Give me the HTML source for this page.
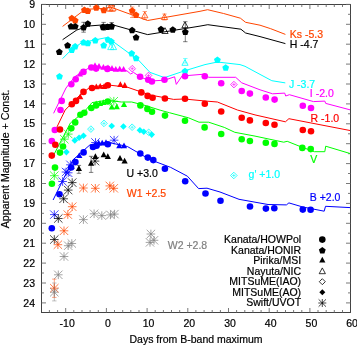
<!DOCTYPE html>
<html><head><meta charset="utf-8"><style>
html,body{margin:0;padding:0;background:#fff;width:357px;height:345px;overflow:hidden}
svg{display:block;will-change:transform}
text{font-family:"Liberation Sans",sans-serif;stroke-width:0.2px}
</style></head><body>
<svg width="357" height="345" viewBox="0 0 357 345">
<rect width="357" height="345" fill="#fff"/>
<rect x="41.5" y="4.5" width="309.0" height="308.0" fill="none" stroke="#3a3a3a" stroke-width="0.95"/>
<path d="M41.5 4.4h4.5M350.5 4.4h-4.5M41.5 14.3h2.5M350.5 14.3h-2.5M41.5 24.3h4.5M350.5 24.3h-4.5M41.5 34.2h2.5M350.5 34.2h-2.5M41.5 44.2h4.5M350.5 44.2h-4.5M41.5 54.1h2.5M350.5 54.1h-2.5M41.5 64.1h4.5M350.5 64.1h-4.5M41.5 74h2.5M350.5 74h-2.5M41.5 84h4.5M350.5 84h-4.5M41.5 94h2.5M350.5 94h-2.5M41.5 103.9h4.5M350.5 103.9h-4.5M41.5 113.8h2.5M350.5 113.8h-2.5M41.5 123.8h4.5M350.5 123.8h-4.5M41.5 133.8h2.5M350.5 133.8h-2.5M41.5 143.7h4.5M350.5 143.7h-4.5M41.5 153.7h2.5M350.5 153.7h-2.5M41.5 163.6h4.5M350.5 163.6h-4.5M41.5 173.5h2.5M350.5 173.5h-2.5M41.5 183.5h4.5M350.5 183.5h-4.5M41.5 193.4h2.5M350.5 193.4h-2.5M41.5 203.4h4.5M350.5 203.4h-4.5M41.5 213.3h2.5M350.5 213.3h-2.5M41.5 223.3h4.5M350.5 223.3h-4.5M41.5 233.2h2.5M350.5 233.2h-2.5M41.5 243.2h4.5M350.5 243.2h-4.5M41.5 253.1h2.5M350.5 253.1h-2.5M41.5 263.1h4.5M350.5 263.1h-4.5M41.5 273h2.5M350.5 273h-2.5M41.5 283h4.5M350.5 283h-4.5M41.5 292.9h2.5M350.5 292.9h-2.5M41.5 302.9h4.5M350.5 302.9h-4.5M49.4 312.5v-2.5M49.4 4.5v2.5M57.6 312.5v-2.5M57.6 4.5v2.5M65.7 312.5v-4.5M65.7 4.5v4.5M73.8 312.5v-2.5M73.8 4.5v2.5M82 312.5v-2.5M82 4.5v2.5M90.1 312.5v-2.5M90.1 4.5v2.5M98.3 312.5v-2.5M98.3 4.5v2.5M106.4 312.5v-4.5M106.4 4.5v4.5M114.5 312.5v-2.5M114.5 4.5v2.5M122.7 312.5v-2.5M122.7 4.5v2.5M130.8 312.5v-2.5M130.8 4.5v2.5M139 312.5v-2.5M139 4.5v2.5M147.1 312.5v-4.5M147.1 4.5v4.5M155.2 312.5v-2.5M155.2 4.5v2.5M163.4 312.5v-2.5M163.4 4.5v2.5M171.5 312.5v-2.5M171.5 4.5v2.5M179.7 312.5v-2.5M179.7 4.5v2.5M187.8 312.5v-4.5M187.8 4.5v4.5M195.9 312.5v-2.5M195.9 4.5v2.5M204.1 312.5v-2.5M204.1 4.5v2.5M212.2 312.5v-2.5M212.2 4.5v2.5M220.4 312.5v-2.5M220.4 4.5v2.5M228.5 312.5v-4.5M228.5 4.5v4.5M236.6 312.5v-2.5M236.6 4.5v2.5M244.8 312.5v-2.5M244.8 4.5v2.5M252.9 312.5v-2.5M252.9 4.5v2.5M261.1 312.5v-2.5M261.1 4.5v2.5M269.2 312.5v-4.5M269.2 4.5v4.5M277.3 312.5v-2.5M277.3 4.5v2.5M285.5 312.5v-2.5M285.5 4.5v2.5M293.6 312.5v-2.5M293.6 4.5v2.5M301.8 312.5v-2.5M301.8 4.5v2.5M309.9 312.5v-4.5M309.9 4.5v4.5M318 312.5v-2.5M318 4.5v2.5M326.2 312.5v-2.5M326.2 4.5v2.5M334.3 312.5v-2.5M334.3 4.5v2.5M342.5 312.5v-2.5M342.5 4.5v2.5" stroke="#6a6a6a" stroke-width="0.9" fill="none"/>
<text x="35" y="8" fill="#000000" stroke="#000000" font-size="10.5" text-anchor="end">9</text>
<text x="35" y="27.9" fill="#000000" stroke="#000000" font-size="10.5" text-anchor="end">10</text>
<text x="35" y="47.8" fill="#000000" stroke="#000000" font-size="10.5" text-anchor="end">11</text>
<text x="35" y="67.7" fill="#000000" stroke="#000000" font-size="10.5" text-anchor="end">12</text>
<text x="35" y="87.6" fill="#000000" stroke="#000000" font-size="10.5" text-anchor="end">13</text>
<text x="35" y="107.5" fill="#000000" stroke="#000000" font-size="10.5" text-anchor="end">14</text>
<text x="35" y="127.4" fill="#000000" stroke="#000000" font-size="10.5" text-anchor="end">15</text>
<text x="35" y="147.3" fill="#000000" stroke="#000000" font-size="10.5" text-anchor="end">16</text>
<text x="35" y="167.2" fill="#000000" stroke="#000000" font-size="10.5" text-anchor="end">17</text>
<text x="35" y="187.1" fill="#000000" stroke="#000000" font-size="10.5" text-anchor="end">18</text>
<text x="35" y="207" fill="#000000" stroke="#000000" font-size="10.5" text-anchor="end">19</text>
<text x="35" y="226.9" fill="#000000" stroke="#000000" font-size="10.5" text-anchor="end">20</text>
<text x="35" y="246.8" fill="#000000" stroke="#000000" font-size="10.5" text-anchor="end">21</text>
<text x="35" y="266.7" fill="#000000" stroke="#000000" font-size="10.5" text-anchor="end">22</text>
<text x="35" y="286.6" fill="#000000" stroke="#000000" font-size="10.5" text-anchor="end">23</text>
<text x="35" y="306.5" fill="#000000" stroke="#000000" font-size="10.5" text-anchor="end">24</text>
<text x="67.2" y="327.1" fill="#000000" stroke="#000000" font-size="10.5" text-anchor="middle">-10</text>
<text x="107.9" y="327.1" fill="#000000" stroke="#000000" font-size="10.5" text-anchor="middle">0</text>
<text x="148.6" y="327.1" fill="#000000" stroke="#000000" font-size="10.5" text-anchor="middle">10</text>
<text x="189.3" y="327.1" fill="#000000" stroke="#000000" font-size="10.5" text-anchor="middle">20</text>
<text x="230" y="327.1" fill="#000000" stroke="#000000" font-size="10.5" text-anchor="middle">30</text>
<text x="270.7" y="327.1" fill="#000000" stroke="#000000" font-size="10.5" text-anchor="middle">40</text>
<text x="311.4" y="327.1" fill="#000000" stroke="#000000" font-size="10.5" text-anchor="middle">50</text>
<text x="352.1" y="327.1" fill="#000000" stroke="#000000" font-size="10.5" text-anchor="middle">60</text>
<text x="196" y="343.4" fill="#000000" stroke="#000000" font-size="10.5" text-anchor="middle">Days from B-band maximum</text>
<text transform="translate(8.5,158.9) rotate(-90)" fill="#000" stroke="#000" font-size="10.65" text-anchor="middle">Apparent Magnitude + Const.</text>
<path d="M62.6 26.4 L84 10.2 L88 9.2 L104 8.4 L110.9 7.2 L147.6 20.5 L200 11.3 L207.6 9.7 L223.6 13.5 L240.4 18.2 L245.6 22.3 L260 25.2 L270.7 28.7 L285.4 34.4" stroke="#ff4500" stroke-width="1.0" fill="none" stroke-linejoin="round"/>
<path d="M62.6 39.7 L76.8 30 L88.6 26 L110.9 24.3 L147.6 34.6 L200 26.1 L207.8 24.7 L240.9 29.2 L245.6 33 L260 36.6 L285.4 43.6" stroke="#000000" stroke-width="1.0" fill="none" stroke-linejoin="round"/>
<path d="M62.6 58.6 L71.8 49.3 L81.9 42.6 L107.4 37.4 L138.4 60 L150 72.4 L164.5 77.6 L185 70.7 L205 64.6 L217.4 62 L240 64.6 L245 66.3 L255 71.7 L271.8 80.7 L285.3 82.9" stroke="#00ffff" stroke-width="1.0" fill="none" stroke-linejoin="round"/>
<path d="M53.6 113.3 L66 88 L74.8 76.7 L88.7 68 L90 65.8 L107.4 68 L126.8 70.7 L130.7 74 L133.5 72.4 L140.1 76.8 L150.2 81 L164.5 80.2 L174.6 76.8 L176.3 84.4 L182.1 76 L205 74.1 L208.7 77.3 L235.7 77.3 L241.7 82.8 L260 89.8 L272.6 93.8 L284.7 93.1 L285.7 96 L289.4 94.7 L313.5 101.6 L324.8 101.1 L325.7 103.4 L350 109.8" stroke="#ff00ff" stroke-width="1.0" fill="none" stroke-linejoin="round"/>
<path d="M55 131 L65.2 110 L80 95 L90 87.2 L107.4 84.9 L127.4 87.2 L150 95 L165.2 97.8 L173.6 99.4 L184.5 99 L205 101 L217.4 102 L237.4 110 L255 114.9 L285.4 121.8 L288.9 118.7 L350 130.5" stroke="#ff0000" stroke-width="1.0" fill="none" stroke-linejoin="round"/>
<path d="M53.6 155.2 L70.4 123 L84.3 111.7 L92 102.6 L107.4 100.2 L121.3 102 L131.7 102 L145 105.4 L160.2 110.2 L169.4 112.7 L188.5 117.8 L199 122.2 L208.7 122.2 L224.3 127.4 L234.8 132.3 L255 136.1 L283.7 142.2 L287.2 141.3 L300.2 146.5 L314.4 151.7 L324.8 151.7 L325.7 146.2 L350 153.5" stroke="#00ff00" stroke-width="1.0" fill="none" stroke-linejoin="round"/>
<path d="M53.1 200 L72.8 160 L90 144.8 L107.4 142.2 L127.4 146.5 L150 159.6 L170.7 167.4 L187.4 176.2 L198.6 188.6 L207 188.2 L220 192 L239 199.3 L268 204.5 L286.4 204.9 L288.9 202.9 L302.8 207 L324.2 211.2 L325.5 206.3 L350 207.6" stroke="#0000ff" stroke-width="1.0" fill="none" stroke-linejoin="round"/>
<path d="M132.2 7V17.5M130 7H134.4M130 17.5H134.4" stroke="#ff4500" stroke-width="0.5" fill="none"/>
<polygon points="71.8,14.7 75.2,17.2 73.9,21.2 69.7,21.2 68.4,17.2" fill="#ff4500"/>
<polygon points="75.2,16.9 78.6,19.4 77.3,23.4 73.1,23.4 71.8,19.4" fill="#ff4500"/>
<polygon points="84.4,6.5 87.8,9 86.5,13 82.3,13 81,9" fill="#ff4500"/>
<polygon points="87.8,7.5 91.2,10 89.9,14 85.7,14 84.4,10" fill="#ff4500"/>
<polygon points="96.3,4.3 99.7,6.8 98.4,10.8 94.2,10.8 92.9,6.8" fill="#ff4500"/>
<polygon points="103.8,6.7 107.2,9.2 105.9,13.2 101.7,13.2 100.4,9.2" fill="#ff4500"/>
<polygon points="132.2,7.3 135.6,9.8 134.3,13.8 130.1,13.8 128.8,9.8" fill="#ff4500"/>
<polygon points="136,11.6 139.4,14.1 138.1,18.1 133.9,18.1 132.6,14.1" fill="#ff4500"/>
<path d="M109.5 5.5V11.5M107.3 5.5H111.7M107.3 11.5H111.7" stroke="#ff4500" stroke-width="0.5" fill="none"/>
<polygon points="109.5,5 112.6,10.8 106.4,10.8" fill="none" stroke="#ff4500" stroke-width="0.8"/>
<path d="M112.9 5.5V11.5M110.7 5.5H115.1M110.7 11.5H115.1" stroke="#ff4500" stroke-width="0.5" fill="none"/>
<polygon points="112.9,5 116,10.8 109.8,10.8" fill="none" stroke="#ff4500" stroke-width="0.8"/>
<path d="M144.8 11.5V19.5M142.6 11.5H147M142.6 19.5H147" stroke="#ff4500" stroke-width="0.5" fill="none"/>
<polygon points="144.8,12 147.9,17.8 141.7,17.8" fill="none" stroke="#ff4500" stroke-width="0.8"/>
<path d="M164.5 14V20M162.3 14H166.7M162.3 20H166.7" stroke="#ff4500" stroke-width="0.5" fill="none"/>
<polygon points="164.5,13.7 167.6,19.5 161.4,19.5" fill="none" stroke="#ff4500" stroke-width="0.8"/>
<path d="M83.6 22.3V32.2M81.4 22.3H85.8M81.4 32.2H85.8" stroke="#000000" stroke-width="0.5" fill="none"/>
<path d="M103.6 22.4V30.3M101.4 22.4H105.8M101.4 30.3H105.8" stroke="#000000" stroke-width="0.5" fill="none"/>
<path d="M111.7 22.5V29.5M109.5 22.5H113.9M109.5 29.5H113.9" stroke="#000000" stroke-width="0.5" fill="none"/>
<polygon points="59.3,48.5 62.7,51 61.4,55 57.2,55 55.9,51" fill="#000000"/>
<polygon points="67.6,41.9 71,44.4 69.7,48.4 65.5,48.4 64.2,44.4" fill="#000000"/>
<polygon points="71,23.1 74.4,25.6 73.1,29.6 68.9,29.6 67.6,25.6" fill="#000000"/>
<polygon points="75.2,23.1 78.6,25.6 77.3,29.6 73.1,29.6 71.8,25.6" fill="#000000"/>
<polygon points="83.6,24 87,26.5 85.7,30.5 81.5,30.5 80.2,26.5" fill="#000000"/>
<polygon points="87.8,20.3 91.2,22.8 89.9,26.8 85.7,26.8 84.4,22.8" fill="#000000"/>
<polygon points="103,23.5 106.4,26 105.1,30 100.9,30 99.6,26" fill="#000000"/>
<polygon points="107.4,23.5 110.8,26 109.5,30 105.3,30 104,26" fill="#000000"/>
<polygon points="111.7,22.8 115.1,25.3 113.8,29.3 109.6,29.3 108.3,25.3" fill="#000000"/>
<polygon points="132.1,26.7 135.5,29.2 134.2,33.2 130,33.2 128.7,29.2" fill="#000000"/>
<polygon points="136.1,34 139.5,36.5 138.2,40.5 134,40.5 132.7,36.5" fill="#000000"/>
<polygon points="161,25.8 164.4,28.3 163.1,32.3 158.9,32.3 157.6,28.3" fill="#000000"/>
<polygon points="172.8,26.3 176.2,28.8 174.9,32.8 170.7,32.8 169.4,28.8" fill="#000000"/>
<polygon points="185.3,28.4 188.7,30.9 187.4,34.9 183.2,34.9 181.9,30.9" fill="#000000"/>
<path d="M185.3 21.7V41.7M183.1 21.7H187.5M183.1 41.7H187.5" stroke="#000000" stroke-width="0.5" fill="none"/>
<polygon points="165,27.7 168.1,33.5 161.9,33.5" fill="none" stroke="#000000" stroke-width="0.8"/>
<polygon points="185,21.9 188.1,27.7 181.9,27.7" fill="none" stroke="#000000" stroke-width="0.8"/>
<polygon points="59.5,73 62.9,75.5 61.6,79.5 57.4,79.5 56.1,75.5" fill="#00ffff"/>
<polygon points="71.8,46.4 75.2,48.9 73.9,52.9 69.7,52.9 68.4,48.9" fill="#00ffff"/>
<polygon points="75.2,43.1 78.6,45.6 77.3,49.6 73.1,49.6 71.8,45.6" fill="#00ffff"/>
<polygon points="83.6,38.9 87,41.4 85.7,45.4 81.5,45.4 80.2,41.4" fill="#00ffff"/>
<polygon points="87.8,39.7 91.2,42.2 89.9,46.2 85.7,46.2 84.4,42.2" fill="#00ffff"/>
<polygon points="95.3,37.1 98.7,39.6 97.4,43.6 93.2,43.6 91.9,39.6" fill="#00ffff"/>
<polygon points="103.7,41.9 107.1,44.4 105.8,48.4 101.6,48.4 100.3,44.4" fill="#00ffff"/>
<polygon points="108,36.3 111.4,38.8 110.1,42.8 105.9,42.8 104.6,38.8" fill="#00ffff"/>
<polygon points="111.3,38 114.7,40.5 113.4,44.5 109.2,44.5 107.9,40.5" fill="#00ffff"/>
<polygon points="131.7,50.1 135.1,52.6 133.8,56.6 129.6,56.6 128.3,52.6" fill="#00ffff"/>
<polygon points="136.1,54.7 139.5,57.2 138.2,61.2 134,61.2 132.7,57.2" fill="#00ffff"/>
<polygon points="185,67.8 188.4,70.3 187.1,74.3 182.9,74.3 181.6,70.3" fill="#00ffff"/>
<polygon points="217.4,56.4 220.8,58.9 219.5,62.9 215.3,62.9 214,58.9" fill="#00ffff"/>
<polygon points="225.7,64.3 229.1,66.8 227.8,70.8 223.6,70.8 222.3,66.8" fill="#00ffff"/>
<polygon points="110.8,43.8 113.9,49.6 107.7,49.6" fill="none" stroke="#00ffff" stroke-width="0.8"/>
<polygon points="113.5,43.8 116.6,49.6 110.4,49.6" fill="none" stroke="#00ffff" stroke-width="0.8"/>
<path d="M185.3 58.5V63M183.1 58.5H187.5M183.1 63H187.5" stroke="#00ffff" stroke-width="0.5" fill="none"/>
<polygon points="185,59.5 188.1,65.3 181.9,65.3" fill="none" stroke="#00ffff" stroke-width="0.8"/>
<circle cx="51.8" cy="141" r="3.3" fill="#ff00ff"/>
<circle cx="54.8" cy="130" r="3.3" fill="#ff00ff"/>
<circle cx="60.5" cy="110" r="3.3" fill="#ff00ff"/>
<circle cx="61.7" cy="100.9" r="3.3" fill="#ff00ff"/>
<circle cx="71.3" cy="84.2" r="3.3" fill="#ff00ff"/>
<circle cx="75.7" cy="79.3" r="3.3" fill="#ff00ff"/>
<circle cx="83.5" cy="71.9" r="3.3" fill="#ff00ff"/>
<circle cx="91.3" cy="67.5" r="3.3" fill="#ff00ff"/>
<circle cx="96.1" cy="68.6" r="3.3" fill="#ff00ff"/>
<circle cx="107.4" cy="68.9" r="3.3" fill="#ff00ff"/>
<circle cx="140.1" cy="76.8" r="3.3" fill="#ff00ff"/>
<circle cx="148.2" cy="79.8" r="3.3" fill="#ff00ff"/>
<circle cx="151.9" cy="81.5" r="3.3" fill="#ff00ff"/>
<circle cx="164.5" cy="79.8" r="3.3" fill="#ff00ff"/>
<circle cx="185" cy="76.2" r="3.3" fill="#ff00ff"/>
<circle cx="204.8" cy="76.2" r="3.3" fill="#ff00ff"/>
<circle cx="221.2" cy="83.3" r="3.3" fill="#ff00ff"/>
<circle cx="241.7" cy="91" r="3.3" fill="#ff00ff"/>
<circle cx="249.9" cy="93.6" r="3.3" fill="#ff00ff"/>
<circle cx="265.8" cy="97.5" r="3.3" fill="#ff00ff"/>
<circle cx="274.6" cy="99.6" r="3.3" fill="#ff00ff"/>
<circle cx="302.8" cy="105.8" r="3.3" fill="#ff00ff"/>
<circle cx="311" cy="108" r="3.3" fill="#ff00ff"/>
<polygon points="80,70.7 83.1,76.5 76.9,76.5" fill="#ff00ff"/>
<polygon points="95,62.2 98.1,68 91.9,68" fill="#ff00ff"/>
<polygon points="99,62.9 102.1,68.7 95.9,68.7" fill="#ff00ff"/>
<polygon points="103.4,63.9 106.5,69.7 100.3,69.7" fill="#ff00ff"/>
<polygon points="108,64.4 111.1,70.2 104.9,70.2" fill="#ff00ff"/>
<polygon points="112,65.1 115.1,70.9 108.9,70.9" fill="#ff00ff"/>
<polygon points="115.8,65.9 118.9,71.7 112.7,71.7" fill="#ff00ff"/>
<polygon points="119.7,65.7 122.8,71.5 116.6,71.5" fill="#ff00ff"/>
<polygon points="123.6,65.9 126.7,71.7 120.5,71.7" fill="#ff00ff"/>
<polygon points="132.2,65.4 135.5,68.7 132.2,72 128.9,68.7" fill="none" stroke="#ff00ff" stroke-width="0.8"/>
<path d="M130.6 68.7H133.8M132.2 67.1V70.3" stroke="#ff00ff" stroke-width="0.6"/>
<polygon points="148.5,72.2 151.8,75.5 148.5,78.8 145.2,75.5" fill="none" stroke="#ff00ff" stroke-width="0.8"/>
<path d="M146.9 75.5H150.1M148.5 73.9V77.1" stroke="#ff00ff" stroke-width="0.6"/>
<polygon points="233.9,81.3 237.2,84.6 233.9,87.9 230.6,84.6" fill="none" stroke="#ff00ff" stroke-width="0.8"/>
<path d="M232.3 84.6H235.5M233.9 83V86.2" stroke="#ff00ff" stroke-width="0.6"/>
<circle cx="51.8" cy="155.6" r="3.3" fill="#ff0000"/>
<circle cx="55.3" cy="144.8" r="3.3" fill="#ff0000"/>
<circle cx="60" cy="129.5" r="3.3" fill="#ff0000"/>
<circle cx="71.8" cy="104.2" r="3.3" fill="#ff0000"/>
<circle cx="76" cy="100.9" r="3.3" fill="#ff0000"/>
<circle cx="83.5" cy="91.9" r="3.3" fill="#ff0000"/>
<circle cx="92" cy="88" r="3.3" fill="#ff0000"/>
<circle cx="107.8" cy="85.2" r="3.3" fill="#ff0000"/>
<circle cx="141.3" cy="92.4" r="3.3" fill="#ff0000"/>
<circle cx="147.6" cy="95.9" r="3.3" fill="#ff0000"/>
<circle cx="152.6" cy="97.8" r="3.3" fill="#ff0000"/>
<circle cx="164.9" cy="98.5" r="3.3" fill="#ff0000"/>
<circle cx="185" cy="98.8" r="3.3" fill="#ff0000"/>
<circle cx="204.8" cy="103.7" r="3.3" fill="#ff0000"/>
<circle cx="221.2" cy="111.5" r="3.3" fill="#ff0000"/>
<circle cx="241.7" cy="117.8" r="3.3" fill="#ff0000"/>
<circle cx="249.9" cy="120.4" r="3.3" fill="#ff0000"/>
<circle cx="265.8" cy="123" r="3.3" fill="#ff0000"/>
<circle cx="274.5" cy="124.8" r="3.3" fill="#ff0000"/>
<circle cx="302.8" cy="130" r="3.3" fill="#ff0000"/>
<circle cx="311" cy="131.2" r="3.3" fill="#ff0000"/>
<polygon points="80.2,93.4 83.3,99.2 77.1,99.2" fill="#ff0000"/>
<polygon points="96.3,83.5 99.4,89.3 93.2,89.3" fill="#ff0000"/>
<polygon points="100.2,83 103.3,88.8 97.1,88.8" fill="#ff0000"/>
<polygon points="104.1,83.2 107.2,89 101,89" fill="#ff0000"/>
<polygon points="120.4,81.3 123.5,87.1 117.3,87.1" fill="#ff0000"/>
<polygon points="124.8,82.1 127.9,87.9 121.7,87.9" fill="#ff0000"/>
<path d="M50 175.7H58.6M54.3 171.4V180M50.1 171.5L58.5 179.9M50.1 179.9L58.5 171.5" stroke="#00ff00" stroke-width="0.72" fill="none"/>
<path d="M60 139.2H68.6M64.3 134.9V143.5M60.1 135L68.5 143.4M60.1 143.4L68.5 135" stroke="#00ff00" stroke-width="0.72" fill="none"/>
<path d="M64 134.1H72.6M68.3 129.8V138.4M64.1 129.9L72.5 138.3M64.1 138.3L72.5 129.9" stroke="#00ff00" stroke-width="0.72" fill="none"/>
<path d="M109.5 101.2H118.1M113.8 96.9V105.5M109.6 97L118 105.4M109.6 105.4L118 97" stroke="#00ff00" stroke-width="0.72" fill="none"/>
<circle cx="51.9" cy="183.7" r="3.3" fill="#00ff00"/>
<circle cx="55" cy="167.6" r="3.3" fill="#00ff00"/>
<circle cx="60" cy="152.6" r="3.3" fill="#00ff00"/>
<circle cx="63" cy="146.5" r="3.3" fill="#00ff00"/>
<circle cx="71.3" cy="128.3" r="3.3" fill="#00ff00"/>
<circle cx="75.2" cy="122.4" r="3.3" fill="#00ff00"/>
<circle cx="80.4" cy="114.8" r="3.3" fill="#00ff00"/>
<circle cx="84.3" cy="112.8" r="3.3" fill="#00ff00"/>
<circle cx="91.3" cy="108" r="3.3" fill="#00ff00"/>
<circle cx="96.1" cy="105.4" r="3.3" fill="#00ff00"/>
<circle cx="107.8" cy="101.5" r="3.3" fill="#00ff00"/>
<circle cx="140.4" cy="105.4" r="3.3" fill="#00ff00"/>
<circle cx="147.4" cy="108.9" r="3.3" fill="#00ff00"/>
<circle cx="152" cy="111.7" r="3.3" fill="#00ff00"/>
<circle cx="165" cy="115.6" r="3.3" fill="#00ff00"/>
<circle cx="185" cy="120.8" r="3.3" fill="#00ff00"/>
<circle cx="204.6" cy="127.4" r="3.3" fill="#00ff00"/>
<circle cx="221.2" cy="134" r="3.3" fill="#00ff00"/>
<circle cx="241.7" cy="139.2" r="3.3" fill="#00ff00"/>
<circle cx="249.9" cy="141" r="3.3" fill="#00ff00"/>
<circle cx="265.8" cy="142.7" r="3.3" fill="#00ff00"/>
<circle cx="274.5" cy="143.9" r="3.3" fill="#00ff00"/>
<circle cx="302.3" cy="147.9" r="3.3" fill="#00ff00"/>
<circle cx="310.7" cy="149.1" r="3.3" fill="#00ff00"/>
<polygon points="96.2,100.5 99.3,106.3 93.1,106.3" fill="#00ff00"/>
<polygon points="100,100.1 103.1,105.9 96.9,105.9" fill="#00ff00"/>
<polygon points="103.3,99.3 106.4,105.1 100.2,105.1" fill="#00ff00"/>
<polygon points="111.8,103.7 114.9,109.5 108.7,109.5" fill="#00ff00"/>
<polygon points="116.8,103.5 119.9,109.3 113.7,109.3" fill="#00ff00"/>
<polygon points="124,101.2 127.1,107 120.9,107" fill="#00ff00"/>
<polygon points="66.4,148.8 69.7,152.1 66.4,155.4 63.1,152.1" fill="#00ffff"/>
<polygon points="74.8,137.1 78.1,140.4 74.8,143.7 71.5,140.4" fill="#00ffff"/>
<polygon points="79.1,134.5 82.4,137.8 79.1,141.1 75.8,137.8" fill="#00ffff"/>
<polygon points="83.5,132.4 86.8,135.7 83.5,139 80.2,135.7" fill="#00ffff"/>
<polygon points="111.7,122.7 115,126 111.7,129.3 108.4,126" fill="#00ffff"/>
<polygon points="123.4,123.2 126.7,126.5 123.4,129.8 120.1,126.5" fill="#00ffff"/>
<polygon points="139.9,127 143.2,130.3 139.9,133.6 136.6,130.3" fill="#00ffff"/>
<polygon points="143.8,128.4 147.1,131.7 143.8,135 140.5,131.7" fill="#00ffff"/>
<polygon points="151.7,131.3 155,134.6 151.7,137.9 148.4,134.6" fill="#00ffff"/>
<polygon points="90.9,125.8 94.2,129.1 90.9,132.4 87.6,129.1" fill="none" stroke="#00ffff" stroke-width="0.8"/>
<path d="M89.3 129.1H92.5M90.9 127.5V130.7" stroke="#00ffff" stroke-width="0.6"/>
<polygon points="104,120.1 107.3,123.4 104,126.7 100.7,123.4" fill="none" stroke="#00ffff" stroke-width="0.8"/>
<path d="M102.4 123.4H105.6M104 121.8V125" stroke="#00ffff" stroke-width="0.6"/>
<polygon points="132.1,123.9 135.4,127.2 132.1,130.5 128.8,127.2" fill="none" stroke="#00ffff" stroke-width="0.8"/>
<path d="M130.5 127.2H133.7M132.1 125.6V128.8" stroke="#00ffff" stroke-width="0.6"/>
<polygon points="148.7,129 152,132.3 148.7,135.6 145.4,132.3" fill="none" stroke="#00ffff" stroke-width="0.8"/>
<path d="M147.1 132.3H150.3M148.7 130.7V133.9" stroke="#00ffff" stroke-width="0.6"/>
<polygon points="233.8,172.2 237.1,175.5 233.8,178.8 230.5,175.5" fill="none" stroke="#00ffff" stroke-width="0.8"/>
<path d="M232.2 175.5H235.4M233.8 173.9V177.1" stroke="#00ffff" stroke-width="0.6"/>
<path d="M50 214.6H58.6M54.3 210.3V218.9M50.1 210.4L58.5 218.8M50.1 218.8L58.5 210.4" stroke="#0000ff" stroke-width="0.72" fill="none"/>
<path d="M58.3 181.5H66.9M62.6 177.2V185.8M58.4 177.3L66.8 185.7M58.4 185.7L66.8 177.3" stroke="#0000ff" stroke-width="0.72" fill="none"/>
<path d="M61.7 172H70.3M66 167.7V176.3M61.8 167.8L70.2 176.2M61.8 176.2L70.2 167.8" stroke="#0000ff" stroke-width="0.72" fill="none"/>
<path d="M63.9 172.8H72.5M68.2 168.5V177.1M64 168.6L72.4 177M64 177L72.4 168.6" stroke="#0000ff" stroke-width="0.72" fill="none"/>
<path d="M66.1 164.8H74.7M70.4 160.5V169.1M66.2 160.6L74.6 169M66.2 169L74.6 160.6" stroke="#0000ff" stroke-width="0.72" fill="none"/>
<path d="M91.2 142.5H99.8M95.5 138.2V146.8M91.3 138.3L99.7 146.7M91.3 146.7L99.7 138.3" stroke="#0000ff" stroke-width="0.72" fill="none"/>
<path d="M109.8 140.2H118.4M114.1 135.9V144.5M109.9 136L118.3 144.4M109.9 144.4L118.3 136" stroke="#0000ff" stroke-width="0.72" fill="none"/>
<circle cx="51.8" cy="228.3" r="3.3" fill="#0000ff"/>
<circle cx="59.5" cy="194.2" r="3.3" fill="#0000ff"/>
<circle cx="71.1" cy="167.5" r="3.3" fill="#0000ff"/>
<circle cx="75.4" cy="162.1" r="3.3" fill="#0000ff"/>
<circle cx="83.6" cy="152.4" r="3.3" fill="#0000ff"/>
<circle cx="93" cy="147" r="3.3" fill="#0000ff"/>
<circle cx="96.5" cy="145.7" r="3.3" fill="#0000ff"/>
<circle cx="107.8" cy="144.3" r="3.3" fill="#0000ff"/>
<circle cx="140.3" cy="153.5" r="3.3" fill="#0000ff"/>
<circle cx="147.8" cy="157.6" r="3.3" fill="#0000ff"/>
<circle cx="153.3" cy="160.1" r="3.3" fill="#0000ff"/>
<circle cx="164.9" cy="168.8" r="3.3" fill="#0000ff"/>
<circle cx="185.2" cy="181.3" r="3.3" fill="#0000ff"/>
<circle cx="205.5" cy="193.5" r="3.3" fill="#0000ff"/>
<circle cx="220.5" cy="200.7" r="3.3" fill="#0000ff"/>
<circle cx="250" cy="206.5" r="3.3" fill="#0000ff"/>
<circle cx="265.9" cy="208.6" r="3.3" fill="#0000ff"/>
<circle cx="274.3" cy="208.2" r="3.3" fill="#0000ff"/>
<circle cx="302.8" cy="209.6" r="3.3" fill="#0000ff"/>
<circle cx="310.6" cy="209.8" r="3.3" fill="#0000ff"/>
<polygon points="79.3,152.3 82.4,158.1 76.2,158.1" fill="#0000ff"/>
<polygon points="98.7,139.7 101.8,145.5 95.6,145.5" fill="#0000ff"/>
<polygon points="102.2,139.7 105.3,145.5 99.1,145.5" fill="#0000ff"/>
<polygon points="106,139.3 109.1,145.1 102.9,145.1" fill="#0000ff"/>
<polygon points="119.3,142.5 122.4,148.3 116.2,148.3" fill="#0000ff"/>
<polygon points="124,142.5 127.1,148.3 120.9,148.3" fill="#0000ff"/>
<path d="M78.9 165.4V173.3M76.7 165.4H81.1M76.7 173.3H81.1" stroke="#000000" stroke-width="0.5" fill="none"/>
<path d="M91.1 156.3V172.4M88.9 156.3H93.3M88.9 172.4H93.3" stroke="#000000" stroke-width="0.5" fill="none"/>
<polygon points="78.9,165.2 82,171 75.8,171" fill="#000000"/>
<polygon points="91.1,160 94.2,165.8 88,165.8" fill="#000000"/>
<polygon points="95.4,153.2 98.5,159 92.3,159" fill="#000000"/>
<polygon points="103.7,151.5 106.8,157.3 100.6,157.3" fill="#000000"/>
<polygon points="107.8,153.3 110.9,159.1 104.7,159.1" fill="#000000"/>
<polygon points="120,154.9 123.1,160.7 116.9,160.7" fill="#000000"/>
<polygon points="124.6,157.7 127.7,163.5 121.5,163.5" fill="#000000"/>
<path d="M54 218.5H62.6M58.3 214.2V222.8M54.1 214.3L62.5 222.7M54.1 222.7L62.5 214.3" stroke="#000000" stroke-width="0.72" fill="none"/>
<path d="M50 239.5H58.6M54.3 235.2V243.8M50.1 235.3L58.5 243.7M50.1 243.7L58.5 235.3" stroke="#000000" stroke-width="0.72" fill="none"/>
<path d="M59.3 198.8H67.9M63.6 194.5V203.1M59.4 194.6L67.8 203M59.4 203L67.8 194.6" stroke="#000000" stroke-width="0.72" fill="none"/>
<path d="M63.9 190.1H72.5M68.2 185.8V194.4M64 185.9L72.4 194.3M64 194.3L72.4 185.9" stroke="#000000" stroke-width="0.72" fill="none"/>
<path d="M67.9 182.6H76.5M72.2 178.3V186.9M68 178.4L76.4 186.8M68 186.8L76.4 178.4" stroke="#000000" stroke-width="0.72" fill="none"/>
<path d="M90.7 161.1H99.3M95 156.8V165.4M90.8 156.9L99.2 165.3M90.8 165.3L99.2 156.9" stroke="#000000" stroke-width="0.72" fill="none"/>
<path d="M54.3 279.1V297.4M52.1 279.1H56.5M52.1 297.4H56.5" stroke="#ff4500" stroke-width="0.5" fill="none"/>
<path d="M50 288.2H58.6M54.3 283.9V292.5M50.1 284L58.5 292.4M50.1 292.4L58.5 284" stroke="#ff4500" stroke-width="0.72" fill="none"/>
<path d="M53.6 244.7H62.2M57.9 240.4V249M53.7 240.5L62.1 248.9M53.7 248.9L62.1 240.5" stroke="#ff4500" stroke-width="0.72" fill="none"/>
<path d="M59.7 230.8H68.3M64 226.5V235.1M59.8 226.6L68.2 235M59.8 235L68.2 226.6" stroke="#ff4500" stroke-width="0.72" fill="none"/>
<path d="M63.5 214.6H72.1M67.8 210.3V218.9M63.6 210.4L72 218.8M63.6 218.8L72 210.4" stroke="#ff4500" stroke-width="0.72" fill="none"/>
<path d="M67.9 206.7H76.5M72.2 202.4V211M68 202.5L76.4 210.9M68 210.9L76.4 202.5" stroke="#ff4500" stroke-width="0.72" fill="none"/>
<path d="M79.1 188H87.7M83.4 183.7V192.3M79.2 183.8L87.6 192.2M79.2 192.2L87.6 183.8" stroke="#ff4500" stroke-width="0.72" fill="none"/>
<path d="M91 188.3H99.6M95.3 184V192.6M91.1 184.1L99.5 192.5M91.1 192.5L99.5 184.1" stroke="#ff4500" stroke-width="0.72" fill="none"/>
<path d="M105.5 185.9H114.1M109.8 181.6V190.2M105.6 181.7L114 190.1M105.6 190.1L114 181.7" stroke="#ff4500" stroke-width="0.72" fill="none"/>
<path d="M109.5 188.3H118.1M113.8 184V192.6M109.6 184.1L118 192.5M109.6 192.5L118 184.1" stroke="#ff4500" stroke-width="0.72" fill="none"/>
<path d="M54.3 283V300.9M52.1 283H56.5M52.1 300.9H56.5" stroke="#808080" stroke-width="0.5" fill="none"/>
<path d="M50 292.2H58.6M54.3 287.9V296.5M50.1 288L58.5 296.4M50.1 296.4L58.5 288" stroke="#808080" stroke-width="0.72" fill="none"/>
<path d="M54 274.8H62.6M58.3 270.5V279.1M54.1 270.6L62.5 279M54.1 279L62.5 270.6" stroke="#808080" stroke-width="0.72" fill="none"/>
<path d="M59.7 256.5H68.3M64 252.2V260.8M59.8 252.3L68.2 260.7M59.8 260.7L68.2 252.3" stroke="#808080" stroke-width="0.72" fill="none"/>
<path d="M63.9 245.7H72.5M68.2 241.4V250M64 241.5L72.4 249.9M64 249.9L72.4 241.5" stroke="#808080" stroke-width="0.72" fill="none"/>
<path d="M67.5 243.5H76.1M71.8 239.2V247.8M67.6 239.3L76 247.7M67.6 247.7L76 239.3" stroke="#808080" stroke-width="0.72" fill="none"/>
<path d="M79.1 219.6H87.7M83.4 215.3V223.9M79.2 215.4L87.6 223.8M79.2 223.8L87.6 215.4" stroke="#808080" stroke-width="0.72" fill="none"/>
<path d="M89.8 213.8H98.4M94.1 209.5V218.1M89.9 209.6L98.3 218M89.9 218L98.3 209.6" stroke="#808080" stroke-width="0.72" fill="none"/>
<path d="M97.5 215.6H106.1M101.8 211.3V219.9M97.6 211.4L106 219.8M97.6 219.8L106 211.4" stroke="#808080" stroke-width="0.72" fill="none"/>
<path d="M106.2 214.9H114.8M110.5 210.6V219.2M106.3 210.7L114.7 219.1M106.3 219.1L114.7 210.7" stroke="#808080" stroke-width="0.72" fill="none"/>
<path d="M110.1 214.1H118.7M114.4 209.8V218.4M110.2 209.9L118.6 218.3M110.2 218.3L118.6 209.9" stroke="#808080" stroke-width="0.72" fill="none"/>
<path d="M146.6 234H155.2M150.9 229.7V238.3M146.7 229.8L155.1 238.2M146.7 238.2L155.1 229.8" stroke="#808080" stroke-width="0.72" fill="none"/>
<path d="M149.7 240.3H158.3M154 236V244.6M149.8 236.1L158.2 244.5M149.8 244.5L158.2 236.1" stroke="#808080" stroke-width="0.72" fill="none"/>
<path d="M145.7 242.4H154.3M150 238.1V246.7M145.8 238.2L154.2 246.6M145.8 246.6L154.2 238.2" stroke="#808080" stroke-width="0.72" fill="none"/>
<text x="289.8" y="38.2" fill="#ff4500" stroke="#ff4500" font-size="10.5" text-anchor="start">Ks -5.3</text>
<text x="289.8" y="48.1" fill="#000000" stroke="#000000" font-size="10.5" text-anchor="start">H -4.7</text>
<text x="288.9" y="87.7" fill="#00ffff" stroke="#00ffff" font-size="10.5" text-anchor="start">J -3.7</text>
<text x="309.8" y="97.3" fill="#ff00ff" stroke="#ff00ff" font-size="10.5" text-anchor="start">I -2.0</text>
<text x="310.6" y="121.8" fill="#ff0000" stroke="#ff0000" font-size="10.5" text-anchor="start">R -1.0</text>
<text x="310.3" y="162.5" fill="#00ff00" stroke="#00ff00" font-size="10.5" text-anchor="start">V</text>
<text x="126.6" y="177.1" fill="#000000" stroke="#000000" font-size="10.5" text-anchor="start">U +3.0</text>
<text x="248.6" y="178" fill="#00ffff" stroke="#00ffff" font-size="10.5" text-anchor="start">g' +1.0</text>
<text x="309.8" y="200.8" fill="#0000ff" stroke="#0000ff" font-size="10.5" text-anchor="start">B +2.0</text>
<text x="126.8" y="196.9" fill="#ff4500" stroke="#ff4500" font-size="10.5" text-anchor="start">W1 +2.5</text>
<text x="167.8" y="248.8" fill="#808080" stroke="#808080" font-size="10.5" text-anchor="start">W2 +2.8</text>
<text x="301.1" y="243.1" fill="#000000" stroke="#000000" font-size="10.5" text-anchor="end">Kanata/HOWPol</text>
<circle cx="322.3" cy="239.6" r="3.3" fill="#000000"/>
<text x="301.1" y="253.6" fill="#000000" stroke="#000000" font-size="10.5" text-anchor="end">Kanata/HONIR</text>
<polygon points="322.3,247.1 325.7,249.6 324.4,253.6 320.2,253.6 318.9,249.6" fill="#000000"/>
<text x="301.1" y="264.1" fill="#000000" stroke="#000000" font-size="10.5" text-anchor="end">Pirika/MSI</text>
<polygon points="322.3,256.7 325.4,262.5 319.2,262.5" fill="#000000"/>
<text x="301.1" y="274.7" fill="#000000" stroke="#000000" font-size="10.5" text-anchor="end">Nayuta/NIC</text>
<polygon points="322.3,267.9 325.4,273.7 319.2,273.7" fill="none" stroke="#000000" stroke-width="0.8"/>
<text x="301.1" y="285.2" fill="#000000" stroke="#000000" font-size="10.5" text-anchor="end">MITSuME(IAO)</text>
<polygon points="322.3,278.7 325.3,281.7 322.3,284.7 319.3,281.7" fill="none" stroke="#000000" stroke-width="0.8"/>
<text x="301.1" y="295.7" fill="#000000" stroke="#000000" font-size="10.5" text-anchor="end">MITSuME(AO)</text>
<polygon points="322.3,289.3 325.3,292.3 322.3,295.3 319.3,292.3" fill="#000000"/>
<text x="301.1" y="306.2" fill="#000000" stroke="#000000" font-size="10.5" text-anchor="end">Swift/UVOT</text>
<path d="M318.3 303H326.3M322.3 299V307M318.6 299.3L326 306.7M318.6 306.7L326 299.3" stroke="#000000" stroke-width="0.72" fill="none"/>
</svg>
</body></html>
